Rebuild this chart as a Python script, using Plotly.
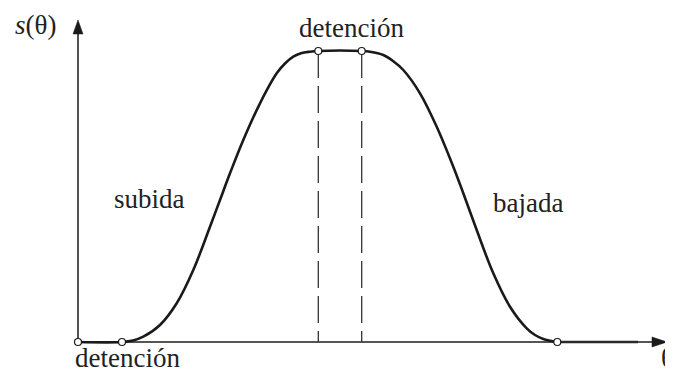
import plotly.graph_objects as go

# Cam displacement diagram s(θ), units (θ: px from origin, s: px above axis)
rise_theta = [0, 44, 55, 65.3, 82, 98.7, 115.3, 132, 142, 152, 165.3, 182, 198.7, 207, 215.3, 223, 232, 240.3]
rise_s = [0, 0, 1.5, 5.3, 17, 38.7, 72, 115.3, 142, 168.7, 202, 238.7, 268.7, 278.5, 285.3, 288.8, 290.3, 291]

dwell_theta = [240.3, 283.7]
dwell_s = [291, 291]

fall_theta = [283.7, 292, 305.3, 315, 325.3, 342, 358.7, 375.3, 385.3, 398.7, 415.3, 432, 448.7, 457, 465.3, 479.3]
fall_s = [291, 290.3, 287, 281, 272, 248.7, 215.3, 175.3, 148.7, 112, 68.7, 35.3, 13.7, 7, 3, 0]

end_dwell_theta = [479.3, 560]
end_dwell_s = [0, 0]

node_theta = [0, 44, 240.3, 283.7, 479.3]
node_s = [0, 0, 291, 291, 0]

axis_x_end = 574
axis_y_end = 308

labels = ["detención", "detención", "subida", "bajada"]

INK = "#1a1a1a"
FONT = "Liberation Serif, Times New Roman, serif"

fig = go.Figure()

# axes
fig.add_trace(go.Scatter(x=[0, axis_x_end], y=[0, 0], mode="lines",
                         line=dict(color="#555555", width=2), hoverinfo="skip"))
fig.add_trace(go.Scatter(x=[0, 0], y=[0, axis_y_end], mode="lines",
                         line=dict(color=INK, width=1.5), hoverinfo="skip"))

# dashed verticals
for t, s in zip(dwell_theta, dwell_s):
    fig.add_trace(go.Scatter(x=[t, t], y=[s, 0], mode="lines",
                             line=dict(color="#333333", width=1.3, dash="27px,8px"),
                             hoverinfo="skip"))

# curve
all_t = rise_theta + dwell_theta[1:] + fall_theta[1:]
all_s = rise_s + dwell_s[1:] + fall_s[1:]
fig.add_trace(go.Scatter(x=all_t, y=all_s, mode="lines",
                         line=dict(color=INK, width=2.6, shape="spline", smoothing=1.0),
                         hoverinfo="skip"))
fig.add_trace(go.Scatter(x=end_dwell_theta, y=end_dwell_s, mode="lines",
                         line=dict(color="#2a2a2a", width=2.4), hoverinfo="skip"))

# nodes
fig.add_trace(go.Scatter(x=node_theta, y=node_s, mode="markers",
                         marker=dict(size=7, color="white", line=dict(color=INK, width=1.2)),
                         hoverinfo="skip"))

# arrowheads
fig.add_shape(type="path", path="M 574,-5 L 589,0 L 574,5 Z", xref="x", yref="y",
              fillcolor=INK, line=dict(color=INK, width=0.5))
fig.add_shape(type="path", path="M -5,308 L 0,322 L 5,308 Z", xref="x", yref="y",
              fillcolor=INK, line=dict(color=INK, width=0.5))

txt = dict(font=dict(family=FONT, size=27, color="#222222"), showarrow=False,
           xref="x", yref="y")
fig.add_annotation(x=273, y=314, text=labels[0], **txt)
fig.add_annotation(x=49, y=-15.5, text=labels[1], **txt)
fig.add_annotation(x=71, y=143.5, text=labels[2], **txt)
fig.add_annotation(x=449.5, y=139.5, text=labels[3], **txt)
fig.add_annotation(x=-43, y=317, text="<i>s</i>(θ)", **txt)
fig.add_annotation(x=581, y=-16, text="θ", xanchor="left", **txt)

# page body has an 8px margin; size the figure so it fills the 673x372 window
fig.update_layout(
    width=665, height=364,
    margin=dict(l=0, r=0, t=0, b=0),
    paper_bgcolor="white", plot_bgcolor="white",
    showlegend=False,
    xaxis=dict(range=[-70, 595], visible=False, fixedrange=True),
    yaxis=dict(range=[-30, 334], visible=False, fixedrange=True),
)

fig.write_html("out.html")
